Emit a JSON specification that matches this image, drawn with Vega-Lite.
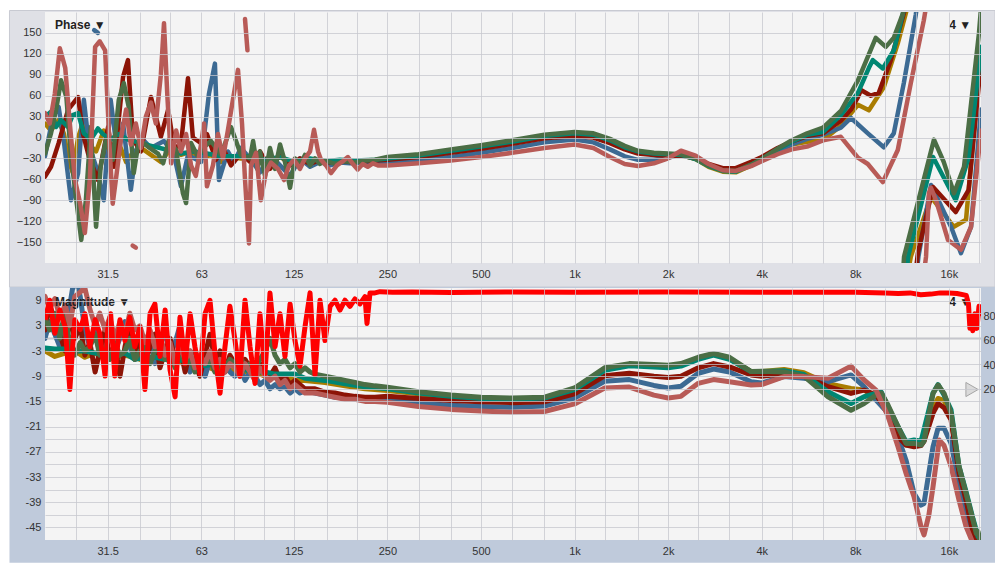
{
"$schema":"https://vega.github.io/schema/vega-lite/v6.json",
"background":"#ffffff",
"padding":{"left":8,"top":10,"right":0,"bottom":0},
"config":{"view":{"stroke":null},"axis":{"labelFont":"Liberation Sans","labelFontSize":11,"labelColor":"#333333","ticks":false,"domain":false,"gridColor":"#c6c7ce","gridOpacity":0.75,"gridWidth":1,"zindex":1,"labelOverlap":false,"labelFlush":false,"labelSeparation":0},"text":{"font":"Liberation Sans"}},
"datasets":{
"ph":[
{"s":"y","k":0,"f":19.8,"v":20},{"s":"y","k":0,"f":20.7,"v":10},{"s":"y","k":0,"f":21.9,"v":25},{"s":"y","k":0,"f":22.8,"v":5},{"s":"y","k":0,"f":23.5,"v":-30},{"s":"y","k":0,"f":24.3,"v":-50},{"s":"y","k":0,"f":25.3,"v":0},{"s":"y","k":0,"f":26.2,"v":20},{"s":"y","k":0,"f":27.4,"v":-10},{"s":"y","k":0,"f":28.9,"v":-20},{"s":"y","k":0,"f":30.6,"v":10},{"s":"y","k":0,"f":32.2,"v":-15},{"s":"y","k":0,"f":34,"v":-5},{"s":"y","k":0,"f":36.1,"v":-35},{"s":"y","k":0,"f":38.2,"v":-20},{"s":"y","k":0,"f":40.3,"v":-15},{"s":"y","k":0,"f":43.4,"v":-25},{"s":"y","k":0,"f":46.7,"v":-35},{"s":"y","k":0,"f":50.4,"v":-15},{"s":"y","k":0,"f":54.2,"v":-25},{"s":"y","k":0,"f":58.4,"v":-20},{"s":"y","k":0,"f":62.9,"v":-30},{"s":"y","k":0,"f":67.7,"v":-25},{"s":"y","k":0,"f":72.9,"v":-35},{"s":"y","k":0,"f":78.5,"v":-28},{"s":"y","k":0,"f":84.5,"v":-30},{"s":"y","k":0,"f":90.4,"v":-30},{"s":"y","k":0,"f":101,"v":-38},{"s":"y","k":0,"f":112.9,"v":-28},{"s":"y","k":0,"f":126.1,"v":-40},{"s":"y","k":0,"f":141,"v":-32},{"s":"y","k":0,"f":157.5,"v":-36},{"s":"y","k":0,"f":176,"v":-34},{"s":"y","k":0,"f":196.7,"v":-35},{"s":"y","k":0,"f":228.1,"v":-33},{"s":"y","k":0,"f":250,"v":-31},{"s":"y","k":0,"f":315,"v":-27},{"s":"y","k":0,"f":400,"v":-21},{"s":"y","k":0,"f":500,"v":-15},{"s":"y","k":0,"f":630,"v":-8},{"s":"y","k":0,"f":800,"v":0},{"s":"y","k":0,"f":1000,"v":4},{"s":"y","k":0,"f":1150,"v":2},{"s":"y","k":0,"f":1300,"v":-6},{"s":"y","k":0,"f":1450,"v":-16},{"s":"y","k":0,"f":1600,"v":-22},{"s":"y","k":0,"f":1800,"v":-24},{"s":"y","k":0,"f":2000,"v":-25},{"s":"y","k":0,"f":2200,"v":-25},{"s":"y","k":0,"f":2450,"v":-31},{"s":"y","k":0,"f":2700,"v":-42},{"s":"y","k":0,"f":3000,"v":-49},{"s":"y","k":0,"f":3300,"v":-50},{"s":"y","k":0,"f":3700,"v":-40},{"s":"y","k":0,"f":4000,"v":-32},{"s":"y","k":0,"f":4500,"v":-20},{"s":"y","k":0,"f":5000,"v":-10},{"s":"y","k":0,"f":5600,"v":-6},{"s":"y","k":0,"f":6300,"v":-4},{"s":"y","k":0,"f":7190,"v":17},{"s":"y","k":0,"f":8160,"v":47},{"s":"y","k":0,"f":8850,"v":39},{"s":"y","k":0,"f":9880,"v":72},{"s":"y","k":0,"f":10960,"v":135},{"s":"y","k":0,"f":11630,"v":178},{"s":"y","k":0,"f":11900,"v":195},
{"s":"y","k":1,"f":11800,"v":-195},{"s":"y","k":1,"f":12070,"v":-171},{"s":"y","k":1,"f":14020,"v":-85},{"s":"y","k":1,"f":16600,"v":-128},{"s":"y","k":1,"f":18170,"v":-118},{"s":"y","k":1,"f":20300,"v":125},
{"s":"b","k":0,"f":19.8,"v":-27},{"s":"b","k":0,"f":21,"v":30},{"s":"b","k":0,"f":21.9,"v":44},{"s":"b","k":0,"f":22.8,"v":-8},{"s":"b","k":0,"f":24,"v":-90},{"s":"b","k":0,"f":25.3,"v":-51},{"s":"b","k":0,"f":26.4,"v":54},{"s":"b","k":0,"f":27.4,"v":-10},{"s":"b","k":0,"f":28.9,"v":-42},{"s":"b","k":0,"f":30.6,"v":-90},{"s":"b","k":0,"f":32.2,"v":54},{"s":"b","k":0,"f":34,"v":-30},{"s":"b","k":0,"f":35.3,"v":20},{"s":"b","k":0,"f":37.4,"v":-75},{"s":"b","k":0,"f":38.8,"v":-20},{"s":"b","k":0,"f":40.3,"v":0},{"s":"b","k":0,"f":43.4,"v":-15},{"s":"b","k":0,"f":47.8,"v":-5},{"s":"b","k":0,"f":51.5,"v":-25},{"s":"b","k":0,"f":54.2,"v":-70},{"s":"b","k":0,"f":57.1,"v":-25},{"s":"b","k":0,"f":62.9,"v":-35},{"s":"b","k":0,"f":66.7,"v":63},{"s":"b","k":0,"f":69.7,"v":106},{"s":"b","k":0,"f":71.8,"v":-61},{"s":"b","k":0,"f":76.7,"v":-20},{"s":"b","k":0,"f":80.3,"v":-35},{"s":"b","k":0,"f":84.5,"v":-15},{"s":"b","k":0,"f":90.4,"v":-30},{"s":"b","k":0,"f":97.3,"v":-50},{"s":"b","k":0,"f":104.8,"v":-25},{"s":"b","k":0,"f":112.9,"v":-40},{"s":"b","k":0,"f":121.6,"v":-55},{"s":"b","k":0,"f":130.9,"v":-30},{"s":"b","k":0,"f":141,"v":-42},{"s":"b","k":0,"f":151.8,"v":-35},{"s":"b","k":0,"f":163.5,"v":-40},{"s":"b","k":0,"f":176,"v":-36},{"s":"b","k":0,"f":189.6,"v":-37},{"s":"b","k":0,"f":211.8,"v":-36},{"s":"b","k":0,"f":250,"v":-35},{"s":"b","k":0,"f":315,"v":-32},{"s":"b","k":0,"f":400,"v":-28},{"s":"b","k":0,"f":500,"v":-22},{"s":"b","k":0,"f":630,"v":-15},{"s":"b","k":0,"f":800,"v":-7},{"s":"b","k":0,"f":1000,"v":-3},{"s":"b","k":0,"f":1150,"v":-7},{"s":"b","k":0,"f":1300,"v":-17},{"s":"b","k":0,"f":1450,"v":-27},{"s":"b","k":0,"f":1600,"v":-32},{"s":"b","k":0,"f":1800,"v":-32},{"s":"b","k":0,"f":2000,"v":-29},{"s":"b","k":0,"f":2200,"v":-24},{"s":"b","k":0,"f":2450,"v":-28},{"s":"b","k":0,"f":2700,"v":-39},{"s":"b","k":0,"f":3000,"v":-47},{"s":"b","k":0,"f":3300,"v":-48},{"s":"b","k":0,"f":3700,"v":-39},{"s":"b","k":0,"f":4000,"v":-32},{"s":"b","k":0,"f":4500,"v":-20},{"s":"b","k":0,"f":5000,"v":-10},{"s":"b","k":0,"f":5600,"v":-2},{"s":"b","k":0,"f":6300,"v":4},{"s":"b","k":0,"f":7190,"v":14},{"s":"b","k":0,"f":7750,"v":28},{"s":"b","k":0,"f":8780,"v":6},{"s":"b","k":0,"f":9880,"v":-14},{"s":"b","k":0,"f":10640,"v":6},{"s":"b","k":0,"f":11460,"v":78},{"s":"b","k":0,"f":12520,"v":176},{"s":"b","k":0,"f":12700,"v":195},
{"s":"b","k":1,"f":12600,"v":-195},{"s":"b","k":1,"f":12770,"v":-171},{"s":"b","k":1,"f":14020,"v":-68},{"s":"b","k":1,"f":16260,"v":-128},{"s":"b","k":1,"f":17500,"v":-166},{"s":"b","k":1,"f":18860,"v":-128},{"s":"b","k":1,"f":20000,"v":6},{"s":"b","k":1,"f":20300,"v":40},
{"s":"b","k":2,"f":28.5,"v":154},{"s":"b","k":2,"f":29.3,"v":150},
{"s":"r","k":0,"f":19.8,"v":-56},{"s":"r","k":0,"f":20.7,"v":-42},{"s":"r","k":0,"f":21.9,"v":-8},{"s":"r","k":0,"f":23.5,"v":40},{"s":"r","k":0,"f":25.3,"v":58},{"s":"r","k":0,"f":26.2,"v":6},{"s":"r","k":0,"f":27.4,"v":-27},{"s":"r","k":0,"f":29.3,"v":-61},{"s":"r","k":0,"f":31.6,"v":15},{"s":"r","k":0,"f":33,"v":-42},{"s":"r","k":0,"f":35.3,"v":87},{"s":"r","k":0,"f":36.6,"v":111},{"s":"r","k":0,"f":38,"v":-3},{"s":"r","k":0,"f":40.3,"v":-20},{"s":"r","k":0,"f":43.4,"v":58},{"s":"r","k":0,"f":45,"v":30},{"s":"r","k":0,"f":46.7,"v":1},{"s":"r","k":0,"f":49.3,"v":40},{"s":"r","k":0,"f":51.5,"v":-15},{"s":"r","k":0,"f":54.2,"v":-10},{"s":"r","k":0,"f":57.1,"v":85},{"s":"r","k":0,"f":59.2,"v":0},{"s":"r","k":0,"f":62.9,"v":-8},{"s":"r","k":0,"f":65.7,"v":5},{"s":"r","k":0,"f":70.2,"v":-32},{"s":"r","k":0,"f":74,"v":-15},{"s":"r","k":0,"f":78.5,"v":-40},{"s":"r","k":0,"f":84.5,"v":-23},{"s":"r","k":0,"f":90.4,"v":-35},{"s":"r","k":0,"f":97.3,"v":-20},{"s":"r","k":0,"f":104.8,"v":-45},{"s":"r","k":0,"f":112.9,"v":-25},{"s":"r","k":0,"f":121.6,"v":-40},{"s":"r","k":0,"f":130.9,"v":-30},{"s":"r","k":0,"f":141,"v":-38},{"s":"r","k":0,"f":151.8,"v":-32},{"s":"r","k":0,"f":163.5,"v":-36},{"s":"r","k":0,"f":176,"v":-33},{"s":"r","k":0,"f":189.6,"v":-35},{"s":"r","k":0,"f":211.8,"v":-34},{"s":"r","k":0,"f":250,"v":-32},{"s":"r","k":0,"f":315,"v":-28},{"s":"r","k":0,"f":400,"v":-22},{"s":"r","k":0,"f":500,"v":-16},{"s":"r","k":0,"f":630,"v":-9},{"s":"r","k":0,"f":800,"v":-1},{"s":"r","k":0,"f":1000,"v":2},{"s":"r","k":0,"f":1150,"v":0},{"s":"r","k":0,"f":1300,"v":-8},{"s":"r","k":0,"f":1450,"v":-17},{"s":"r","k":0,"f":1600,"v":-23},{"s":"r","k":0,"f":1800,"v":-25},{"s":"r","k":0,"f":2000,"v":-26},{"s":"r","k":0,"f":2200,"v":-26},{"s":"r","k":0,"f":2450,"v":-30},{"s":"r","k":0,"f":2700,"v":-38},{"s":"r","k":0,"f":3000,"v":-44},{"s":"r","k":0,"f":3300,"v":-44},{"s":"r","k":0,"f":3700,"v":-35},{"s":"r","k":0,"f":4000,"v":-28},{"s":"r","k":0,"f":4500,"v":-15},{"s":"r","k":0,"f":5000,"v":-6},{"s":"r","k":0,"f":5600,"v":2},{"s":"r","k":0,"f":6300,"v":6},{"s":"r","k":0,"f":7190,"v":24},{"s":"r","k":0,"f":7750,"v":40},{"s":"r","k":0,"f":8160,"v":58},{"s":"r","k":0,"f":8340,"v":68},{"s":"r","k":0,"f":8980,"v":60},{"s":"r","k":0,"f":9520,"v":64},{"s":"r","k":0,"f":10410,"v":111},{"s":"r","k":0,"f":11460,"v":178},{"s":"r","k":0,"f":11700,"v":195},
{"s":"r","k":1,"f":12500,"v":-195},{"s":"r","k":1,"f":12730,"v":-165},{"s":"r","k":1,"f":14230,"v":-71},{"s":"r","k":1,"f":16830,"v":-107},{"s":"r","k":1,"f":18530,"v":-75},{"s":"r","k":1,"f":20000,"v":78},{"s":"r","k":1,"f":20300,"v":100},
{"s":"t","k":0,"f":19.8,"v":30},{"s":"t","k":0,"f":20.7,"v":37},{"s":"t","k":0,"f":21.5,"v":15},{"s":"t","k":0,"f":22.3,"v":25},{"s":"t","k":0,"f":23.5,"v":15},{"s":"t","k":0,"f":24.3,"v":32},{"s":"t","k":0,"f":25.3,"v":35},{"s":"t","k":0,"f":26.4,"v":6},{"s":"t","k":0,"f":27.8,"v":-3},{"s":"t","k":0,"f":29.3,"v":13},{"s":"t","k":0,"f":30.4,"v":5},{"s":"t","k":0,"f":32.2,"v":-3},{"s":"t","k":0,"f":34,"v":5},{"s":"t","k":0,"f":36.6,"v":-3},{"s":"t","k":0,"f":40.3,"v":-8},{"s":"t","k":0,"f":44.4,"v":-13},{"s":"t","k":0,"f":49.3,"v":-18},{"s":"t","k":0,"f":54.2,"v":-23},{"s":"t","k":0,"f":59.7,"v":-20},{"s":"t","k":0,"f":65.7,"v":-23},{"s":"t","k":0,"f":72.9,"v":-27},{"s":"t","k":0,"f":80.3,"v":-27},{"s":"t","k":0,"f":88.8,"v":-27},{"s":"t","k":0,"f":101,"v":-32},{"s":"t","k":0,"f":112.9,"v":-28},{"s":"t","k":0,"f":126.1,"v":-35},{"s":"t","k":0,"f":141,"v":-30},{"s":"t","k":0,"f":157.5,"v":-34},{"s":"t","k":0,"f":176,"v":-32},{"s":"t","k":0,"f":196.7,"v":-33},{"s":"t","k":0,"f":228.1,"v":-32},{"s":"t","k":0,"f":250,"v":-30},{"s":"t","k":0,"f":315,"v":-26},{"s":"t","k":0,"f":400,"v":-19},{"s":"t","k":0,"f":500,"v":-13},{"s":"t","k":0,"f":630,"v":-6},{"s":"t","k":0,"f":800,"v":2},{"s":"t","k":0,"f":1000,"v":6},{"s":"t","k":0,"f":1150,"v":4},{"s":"t","k":0,"f":1300,"v":-4},{"s":"t","k":0,"f":1450,"v":-14},{"s":"t","k":0,"f":1600,"v":-20},{"s":"t","k":0,"f":1800,"v":-23},{"s":"t","k":0,"f":2000,"v":-24},{"s":"t","k":0,"f":2200,"v":-25},{"s":"t","k":0,"f":2450,"v":-31},{"s":"t","k":0,"f":2700,"v":-41},{"s":"t","k":0,"f":3000,"v":-48},{"s":"t","k":0,"f":3300,"v":-49},{"s":"t","k":0,"f":3700,"v":-39},{"s":"t","k":0,"f":4000,"v":-31},{"s":"t","k":0,"f":4500,"v":-17},{"s":"t","k":0,"f":5000,"v":-6},{"s":"t","k":0,"f":5600,"v":4},{"s":"t","k":0,"f":6300,"v":8},{"s":"t","k":0,"f":7190,"v":32},{"s":"t","k":0,"f":8160,"v":64},{"s":"t","k":0,"f":8850,"v":100},{"s":"t","k":0,"f":9110,"v":111},{"s":"t","k":0,"f":9810,"v":99},{"s":"t","k":0,"f":10640,"v":125},{"s":"t","k":0,"f":11390,"v":178},{"s":"t","k":0,"f":11600,"v":195},
{"s":"t","k":1,"f":11700,"v":-195},{"s":"t","k":1,"f":11830,"v":-171},{"s":"t","k":1,"f":14230,"v":-28},{"s":"t","k":1,"f":16830,"v":-90},{"s":"t","k":1,"f":18530,"v":-28},{"s":"t","k":1,"f":20000,"v":101},{"s":"t","k":1,"f":20300,"v":130},
{"s":"g","k":0,"f":19.8,"v":-23},{"s":"g","k":0,"f":20.7,"v":6},{"s":"g","k":0,"f":21.5,"v":40},{"s":"g","k":0,"f":22.3,"v":82},{"s":"g","k":0,"f":23.2,"v":58},{"s":"g","k":0,"f":24,"v":-27},{"s":"g","k":0,"f":24.9,"v":-85},{"s":"g","k":0,"f":25.9,"v":-147},{"s":"g","k":0,"f":26.8,"v":-90},{"s":"g","k":0,"f":27.8,"v":15},{"s":"g","k":0,"f":28.9,"v":-128},{"s":"g","k":0,"f":29.9,"v":-42},{"s":"g","k":0,"f":31.1,"v":-3},{"s":"g","k":0,"f":32.7,"v":-32},{"s":"g","k":0,"f":34.2,"v":54},{"s":"g","k":0,"f":35.5,"v":78},{"s":"g","k":0,"f":36.8,"v":44},{"s":"g","k":0,"f":38.2,"v":-51},{"s":"g","k":0,"f":39.7,"v":-3},{"s":"g","k":0,"f":42.4,"v":-13},{"s":"g","k":0,"f":45.7,"v":-23},{"s":"g","k":0,"f":47.5,"v":-37},{"s":"g","k":0,"f":49.6,"v":-3},{"s":"g","k":0,"f":52.3,"v":-18},{"s":"g","k":0,"f":55,"v":-80},{"s":"g","k":0,"f":56.3,"v":-94},{"s":"g","k":0,"f":58.4,"v":-8},{"s":"g","k":0,"f":61.5,"v":-28},{"s":"g","k":0,"f":63.8,"v":-15},{"s":"g","k":0,"f":67.7,"v":-5},{"s":"g","k":0,"f":72.9,"v":-25},{"s":"g","k":0,"f":78.5,"v":15},{"s":"g","k":0,"f":81.5,"v":-5},{"s":"g","k":0,"f":84.5,"v":-25},{"s":"g","k":0,"f":90.4,"v":-30},{"s":"g","k":0,"f":92.5,"v":-5},{"s":"g","k":0,"f":95.5,"v":-45},{"s":"g","k":0,"f":97.3,"v":-20},{"s":"g","k":0,"f":101,"v":-55},{"s":"g","k":0,"f":104.8,"v":-15},{"s":"g","k":0,"f":108.8,"v":-45},{"s":"g","k":0,"f":112.9,"v":-10},{"s":"g","k":0,"f":117.1,"v":-35},{"s":"g","k":0,"f":121.6,"v":-72},{"s":"g","k":0,"f":126.1,"v":-30},{"s":"g","k":0,"f":130.9,"v":-40},{"s":"g","k":0,"f":135.8,"v":-25},{"s":"g","k":0,"f":141,"v":-40},{"s":"g","k":0,"f":146.3,"v":-30},{"s":"g","k":0,"f":151.8,"v":-38},{"s":"g","k":0,"f":157.5,"v":-33},{"s":"g","k":0,"f":169.6,"v":-38},{"s":"g","k":0,"f":182.7,"v":-34},{"s":"g","k":0,"f":196.7,"v":-36},{"s":"g","k":0,"f":211.8,"v":-33},{"s":"g","k":0,"f":228.1,"v":-32},{"s":"g","k":0,"f":250,"v":-28},{"s":"g","k":0,"f":315,"v":-24},{"s":"g","k":0,"f":400,"v":-17},{"s":"g","k":0,"f":500,"v":-11},{"s":"g","k":0,"f":630,"v":-4},{"s":"g","k":0,"f":800,"v":4},{"s":"g","k":0,"f":1000,"v":8},{"s":"g","k":0,"f":1150,"v":6},{"s":"g","k":0,"f":1300,"v":-2},{"s":"g","k":0,"f":1450,"v":-12},{"s":"g","k":0,"f":1600,"v":-19},{"s":"g","k":0,"f":1800,"v":-22},{"s":"g","k":0,"f":2000,"v":-23},{"s":"g","k":0,"f":2200,"v":-24},{"s":"g","k":0,"f":2450,"v":-30},{"s":"g","k":0,"f":2700,"v":-40},{"s":"g","k":0,"f":3000,"v":-47},{"s":"g","k":0,"f":3300,"v":-48},{"s":"g","k":0,"f":3700,"v":-39},{"s":"g","k":0,"f":4000,"v":-31},{"s":"g","k":0,"f":4500,"v":-16},{"s":"g","k":0,"f":5000,"v":-4},{"s":"g","k":0,"f":5600,"v":6},{"s":"g","k":0,"f":6300,"v":14},{"s":"g","k":0,"f":7190,"v":38},{"s":"g","k":0,"f":8160,"v":82},{"s":"g","k":0,"f":9310,"v":143},{"s":"g","k":0,"f":10030,"v":130},{"s":"g","k":0,"f":10640,"v":143},{"s":"g","k":0,"f":11390,"v":178},{"s":"g","k":0,"f":11600,"v":195},
{"s":"g","k":1,"f":11400,"v":-195},{"s":"g","k":1,"f":11480,"v":-171},{"s":"g","k":1,"f":14330,"v":-3},{"s":"g","k":1,"f":15400,"v":-35},{"s":"g","k":1,"f":16620,"v":-80},{"s":"g","k":1,"f":17900,"v":-42},{"s":"g","k":1,"f":20000,"v":150},{"s":"g","k":1,"f":20300,"v":185},
{"s":"p","k":0,"f":19.8,"v":35},{"s":"p","k":0,"f":20.5,"v":20},{"s":"p","k":0,"f":21.3,"v":63},{"s":"p","k":0,"f":22.1,"v":128},{"s":"p","k":0,"f":23,"v":100},{"s":"p","k":0,"f":23.8,"v":20},{"s":"p","k":0,"f":24.7,"v":-60},{"s":"p","k":0,"f":25.7,"v":-95},{"s":"p","k":0,"f":26.6,"v":-137},{"s":"p","k":0,"f":27.6,"v":-60},{"s":"p","k":0,"f":28.7,"v":130},{"s":"p","k":0,"f":29.7,"v":138},{"s":"p","k":0,"f":30.9,"v":125},{"s":"p","k":0,"f":32,"v":-20},{"s":"p","k":0,"f":32.7,"v":-95},{"s":"p","k":0,"f":33.7,"v":-50},{"s":"p","k":0,"f":34.8,"v":0},{"s":"p","k":0,"f":36.1,"v":40},{"s":"p","k":0,"f":37.4,"v":-10},{"s":"p","k":0,"f":38.8,"v":20},{"s":"p","k":0,"f":40.3,"v":-15},{"s":"p","k":0,"f":41.8,"v":30},{"s":"p","k":0,"f":43.4,"v":50},{"s":"p","k":0,"f":45,"v":20},{"s":"p","k":0,"f":46.7,"v":90},{"s":"p","k":0,"f":47.8,"v":164},{"s":"p","k":0,"f":49,"v":60},{"s":"p","k":0,"f":50.4,"v":-37},{"s":"p","k":0,"f":52.3,"v":10},{"s":"p","k":0,"f":54.2,"v":-20},{"s":"p","k":0,"f":56.3,"v":5},{"s":"p","k":0,"f":58.4,"v":-40},{"s":"p","k":0,"f":60.5,"v":-55},{"s":"p","k":0,"f":62.9,"v":-10},{"s":"p","k":0,"f":64.3,"v":20},{"s":"p","k":0,"f":65.7,"v":-70},{"s":"p","k":0,"f":68.7,"v":-40},{"s":"p","k":0,"f":71.3,"v":5},{"s":"p","k":0,"f":74,"v":-30},{"s":"p","k":0,"f":76.7,"v":10},{"s":"p","k":0,"f":79.7,"v":55},{"s":"p","k":0,"f":82.7,"v":97},{"s":"p","k":0,"f":85.2,"v":20},{"s":"p","k":0,"f":87.1,"v":-60},{"s":"p","k":0,"f":89.7,"v":-152},{"s":"p","k":0,"f":91.1,"v":-40},{"s":"p","k":0,"f":94.5,"v":-22},{"s":"p","k":0,"f":97.9,"v":-90},{"s":"p","k":0,"f":101.7,"v":-50},{"s":"p","k":0,"f":105.6,"v":-36},{"s":"p","k":0,"f":111.2,"v":-45},{"s":"p","k":0,"f":116.3,"v":-61},{"s":"p","k":0,"f":120.7,"v":-40},{"s":"p","k":0,"f":125.1,"v":-32},{"s":"p","k":0,"f":130.9,"v":-45},{"s":"p","k":0,"f":135.8,"v":-30},{"s":"p","k":0,"f":141,"v":-20},{"s":"p","k":0,"f":145.2,"v":11},{"s":"p","k":0,"f":149.6,"v":-20},{"s":"p","k":0,"f":152.9,"v":-32},{"s":"p","k":0,"f":158.7,"v":-40},{"s":"p","k":0,"f":164.7,"v":-51},{"s":"p","k":0,"f":172.1,"v":-40},{"s":"p","k":0,"f":178.6,"v":-35},{"s":"p","k":0,"f":186.6,"v":-28},{"s":"p","k":0,"f":193.7,"v":-38},{"s":"p","k":0,"f":200.7,"v":-46},{"s":"p","k":0,"f":208.3,"v":-38},{"s":"p","k":0,"f":216.1,"v":-42},{"s":"p","k":0,"f":224.6,"v":-37},{"s":"p","k":0,"f":233.2,"v":-40},{"s":"p","k":0,"f":250,"v":-40},{"s":"p","k":0,"f":315,"v":-37},{"s":"p","k":0,"f":400,"v":-33},{"s":"p","k":0,"f":500,"v":-28},{"s":"p","k":0,"f":630,"v":-22},{"s":"p","k":0,"f":800,"v":-15},{"s":"p","k":0,"f":1000,"v":-10},{"s":"p","k":0,"f":1150,"v":-15},{"s":"p","k":0,"f":1300,"v":-28},{"s":"p","k":0,"f":1450,"v":-38},{"s":"p","k":0,"f":1600,"v":-41},{"s":"p","k":0,"f":1800,"v":-37},{"s":"p","k":0,"f":2000,"v":-30},{"s":"p","k":0,"f":2200,"v":-19},{"s":"p","k":0,"f":2450,"v":-26},{"s":"p","k":0,"f":2700,"v":-38},{"s":"p","k":0,"f":3000,"v":-47},{"s":"p","k":0,"f":3300,"v":-48},{"s":"p","k":0,"f":3700,"v":-41},{"s":"p","k":0,"f":4000,"v":-34},{"s":"p","k":0,"f":4500,"v":-24},{"s":"p","k":0,"f":5000,"v":-17},{"s":"p","k":0,"f":5600,"v":-13},{"s":"p","k":0,"f":6300,"v":-4},{"s":"p","k":0,"f":7190,"v":1},{"s":"p","k":0,"f":8160,"v":-29},{"s":"p","k":0,"f":8780,"v":-38},{"s":"p","k":0,"f":9810,"v":-64},{"s":"p","k":0,"f":10960,"v":-18},{"s":"p","k":0,"f":12070,"v":78},{"s":"p","k":0,"f":13290,"v":168},{"s":"p","k":0,"f":13600,"v":195},
{"s":"p","k":1,"f":13300,"v":-195},{"s":"p","k":1,"f":13510,"v":-171},{"s":"p","k":1,"f":13800,"v":-80},{"s":"p","k":1,"f":14000,"v":-72},{"s":"p","k":1,"f":14550,"v":-90},{"s":"p","k":1,"f":15900,"v":-147},{"s":"p","k":1,"f":17510,"v":-161},{"s":"p","k":1,"f":18860,"v":-128},{"s":"p","k":1,"f":20000,"v":-18},{"s":"p","k":1,"f":20300,"v":10},
{"s":"p","k":2,"f":87.1,"v":170},{"s":"p","k":2,"f":88.7,"v":125},
{"s":"p","k":3,"f":37.9,"v":-155},{"s":"p","k":3,"f":38.8,"v":-158}
],
"mg":[
{"s":"y","f":19.8,"v":-3},{"s":"y","f":21.3,"v":-4.3},{"s":"y","f":23,"v":-3.5},{"s":"y","f":24.7,"v":-3},{"s":"y","f":26.6,"v":-4.5},{"s":"y","f":28.7,"v":-3.5},{"s":"y","f":30.9,"v":-5},{"s":"y","f":33.2,"v":-4.5},{"s":"y","f":35.8,"v":-4},{"s":"y","f":38.5,"v":-4.5},{"s":"y","f":41.5,"v":-5.5},{"s":"y","f":44.7,"v":-5.5},{"s":"y","f":48.2,"v":-5},{"s":"y","f":51.9,"v":-5.5},{"s":"y","f":55.9,"v":-6},{"s":"y","f":60.1,"v":-7},{"s":"y","f":64.8,"v":-6.5},{"s":"y","f":69.7,"v":-7.5},{"s":"y","f":75.1,"v":-7.5},{"s":"y","f":80.9,"v":-7.5},{"s":"y","f":87.1,"v":-8},{"s":"y","f":93.8,"v":-8},{"s":"y","f":101,"v":-9},{"s":"y","f":108.8,"v":-9},{"s":"y","f":117.1,"v":-9},{"s":"y","f":126.1,"v":-10},{"s":"y","f":135.8,"v":-10},{"s":"y","f":157.5,"v":-10.5},{"s":"y","f":182.7,"v":-11.3},{"s":"y","f":211.8,"v":-12},{"s":"y","f":250,"v":-12.4},{"s":"y","f":315,"v":-13.2},{"s":"y","f":400,"v":-13.9},{"s":"y","f":500,"v":-14.2},{"s":"y","f":630,"v":-14.4},{"s":"y","f":800,"v":-14.2},{"s":"y","f":1000,"v":-12},{"s":"y","f":1250,"v":-7.2},{"s":"y","f":1500,"v":-6.2},{"s":"y","f":1800,"v":-6.5},{"s":"y","f":2000,"v":-6.6},{"s":"y","f":2200,"v":-6.3},{"s":"y","f":2500,"v":-4.7},{"s":"y","f":2800,"v":-3.8},{"s":"y","f":3150,"v":-4.8},{"s":"y","f":3700,"v":-7.9},{"s":"y","f":4000,"v":-7.9},{"s":"y","f":4720,"v":-7.4},{"s":"y","f":5470,"v":-8.2},{"s":"y","f":6540,"v":-10.8},{"s":"y","f":7750,"v":-11.9},{"s":"y","f":8540,"v":-12.3},{"s":"y","f":9330,"v":-14.3},{"s":"y","f":10200,"v":-17.8},{"s":"y","f":10980,"v":-22.6},{"s":"y","f":11650,"v":-25.4},{"s":"y","f":12360,"v":-25},{"s":"y","f":13020,"v":-24.2},{"s":"y","f":13310,"v":-23.5},{"s":"y","f":14230,"v":-16.5},{"s":"y","f":14770,"v":-14.3},{"s":"y","f":15440,"v":-14.8},{"s":"y","f":16260,"v":-18.6},{"s":"y","f":17250,"v":-32},{"s":"y","f":18170,"v":-38.5},{"s":"y","f":19140,"v":-46.4},{"s":"y","f":19860,"v":-50},
{"s":"b","f":19.8,"v":0},{"s":"b","f":20.5,"v":4},{"s":"b","f":21.3,"v":1},{"s":"b","f":22.1,"v":-2},{"s":"b","f":23,"v":3},{"s":"b","f":23.8,"v":8},{"s":"b","f":24.3,"v":12},{"s":"b","f":24.7,"v":15},{"s":"b","f":25.7,"v":10},{"s":"b","f":26.6,"v":2},{"s":"b","f":27.6,"v":-2},{"s":"b","f":28.7,"v":3},{"s":"b","f":29.7,"v":-4},{"s":"b","f":30.9,"v":-1},{"s":"b","f":32,"v":2},{"s":"b","f":33.2,"v":-3},{"s":"b","f":34.5,"v":0},{"s":"b","f":35.8,"v":4},{"s":"b","f":37.1,"v":-2},{"s":"b","f":38.5,"v":-5},{"s":"b","f":40,"v":1},{"s":"b","f":41.5,"v":-3},{"s":"b","f":43.1,"v":0},{"s":"b","f":44.7,"v":-6},{"s":"b","f":46.4,"v":-2},{"s":"b","f":48.2,"v":2},{"s":"b","f":50,"v":-4},{"s":"b","f":51.9,"v":-1},{"s":"b","f":53.8,"v":3},{"s":"b","f":55.9,"v":-5},{"s":"b","f":58,"v":-8},{"s":"b","f":60.1,"v":-3},{"s":"b","f":62.4,"v":-6},{"s":"b","f":64.8,"v":-9},{"s":"b","f":67.2,"v":-5},{"s":"b","f":69.7,"v":-7},{"s":"b","f":72.4,"v":-10},{"s":"b","f":75.1,"v":-6},{"s":"b","f":77.9,"v":-8},{"s":"b","f":80.9,"v":-9},{"s":"b","f":83.9,"v":-7},{"s":"b","f":87.1,"v":-10},{"s":"b","f":90.4,"v":-8},{"s":"b","f":93.8,"v":-9},{"s":"b","f":97.3,"v":-11},{"s":"b","f":101,"v":-10},{"s":"b","f":104.8,"v":-12},{"s":"b","f":108.8,"v":-11},{"s":"b","f":112.9,"v":-12},{"s":"b","f":117.1,"v":-11.5},{"s":"b","f":121.6,"v":-13},{"s":"b","f":126.1,"v":-12},{"s":"b","f":130.9,"v":-13},{"s":"b","f":135.8,"v":-12.5},{"s":"b","f":146.3,"v":-13},{"s":"b","f":157.5,"v":-13.5},{"s":"b","f":169.6,"v":-14},{"s":"b","f":182.7,"v":-14},{"s":"b","f":196.7,"v":-14.5},{"s":"b","f":211.8,"v":-14.5},{"s":"b","f":228.1,"v":-14.8},{"s":"b","f":250,"v":-14.6},{"s":"b","f":315,"v":-15.4},{"s":"b","f":400,"v":-15.9},{"s":"b","f":500,"v":-16.2},{"s":"b","f":630,"v":-16.4},{"s":"b","f":800,"v":-16.1},{"s":"b","f":1000,"v":-14.2},{"s":"b","f":1250,"v":-10.2},{"s":"b","f":1500,"v":-9.8},{"s":"b","f":1800,"v":-11.2},{"s":"b","f":2000,"v":-11.8},{"s":"b","f":2200,"v":-11.4},{"s":"b","f":2500,"v":-8.3},{"s":"b","f":2800,"v":-7.3},{"s":"b","f":3150,"v":-8},{"s":"b","f":3700,"v":-10.3},{"s":"b","f":4000,"v":-10.6},{"s":"b","f":4720,"v":-9.1},{"s":"b","f":5470,"v":-9.5},{"s":"b","f":6540,"v":-10.3},{"s":"b","f":7750,"v":-8.7},{"s":"b","f":8540,"v":-11.5},{"s":"b","f":9330,"v":-14.7},{"s":"b","f":10200,"v":-17.8},{"s":"b","f":10980,"v":-23.4},{"s":"b","f":11650,"v":-29},{"s":"b","f":12360,"v":-36.9},{"s":"b","f":13020,"v":-39.7},{"s":"b","f":13310,"v":-39.3},{"s":"b","f":14230,"v":-25.8},{"s":"b","f":14770,"v":-21.4},{"s":"b","f":15440,"v":-21.4},{"s":"b","f":16260,"v":-25},{"s":"b","f":17250,"v":-34.5},{"s":"b","f":18170,"v":-41.7},{"s":"b","f":19140,"v":-48},{"s":"b","f":19860,"v":-51},
{"s":"r","f":19.8,"v":2},{"s":"r","f":20.5,"v":8},{"s":"r","f":21.3,"v":4},{"s":"r","f":22.1,"v":1},{"s":"r","f":23,"v":-3},{"s":"r","f":23.8,"v":5},{"s":"r","f":24.7,"v":0},{"s":"r","f":25.7,"v":3},{"s":"r","f":26.6,"v":-4},{"s":"r","f":27.6,"v":-1},{"s":"r","f":28.7,"v":-8},{"s":"r","f":29.7,"v":-3},{"s":"r","f":30.9,"v":2},{"s":"r","f":32,"v":-5},{"s":"r","f":33.2,"v":-1},{"s":"r","f":34.5,"v":-9},{"s":"r","f":35.8,"v":-2},{"s":"r","f":37.1,"v":3},{"s":"r","f":38.5,"v":-4},{"s":"r","f":40,"v":0},{"s":"r","f":41.5,"v":-6},{"s":"r","f":43.1,"v":-2},{"s":"r","f":44.7,"v":1},{"s":"r","f":46.4,"v":-7},{"s":"r","f":48.2,"v":-3},{"s":"r","f":50,"v":0},{"s":"r","f":51.9,"v":-5},{"s":"r","f":53.8,"v":-2},{"s":"r","f":55.9,"v":-8},{"s":"r","f":58,"v":-3},{"s":"r","f":60.1,"v":-6},{"s":"r","f":62.4,"v":-9},{"s":"r","f":64.8,"v":-4},{"s":"r","f":67.2,"v":1},{"s":"r","f":69.7,"v":-5},{"s":"r","f":72.4,"v":-3},{"s":"r","f":75.1,"v":-8},{"s":"r","f":77.9,"v":-4},{"s":"r","f":80.9,"v":-6},{"s":"r","f":83.9,"v":-9},{"s":"r","f":87.1,"v":-5},{"s":"r","f":90.4,"v":-7},{"s":"r","f":93.8,"v":-10},{"s":"r","f":97.3,"v":-6},{"s":"r","f":101,"v":-8},{"s":"r","f":104.8,"v":-9},{"s":"r","f":108.8,"v":-7},{"s":"r","f":112.9,"v":-10},{"s":"r","f":117.1,"v":-9},{"s":"r","f":121.6,"v":-11},{"s":"r","f":126.1,"v":-10},{"s":"r","f":130.9,"v":-11},{"s":"r","f":135.8,"v":-12},{"s":"r","f":146.3,"v":-12},{"s":"r","f":157.5,"v":-12.8},{"s":"r","f":169.6,"v":-13},{"s":"r","f":182.7,"v":-13.5},{"s":"r","f":196.7,"v":-13.8},{"s":"r","f":211.8,"v":-14},{"s":"r","f":228.1,"v":-14},{"s":"r","f":250,"v":-13.8},{"s":"r","f":315,"v":-14.3},{"s":"r","f":400,"v":-14.8},{"s":"r","f":500,"v":-15.1},{"s":"r","f":630,"v":-15.3},{"s":"r","f":800,"v":-15.1},{"s":"r","f":1000,"v":-13.2},{"s":"r","f":1250,"v":-8.9},{"s":"r","f":1500,"v":-8.3},{"s":"r","f":1800,"v":-9},{"s":"r","f":2000,"v":-9.3},{"s":"r","f":2200,"v":-9},{"s":"r","f":2500,"v":-7},{"s":"r","f":2800,"v":-6},{"s":"r","f":3150,"v":-6.8},{"s":"r","f":3700,"v":-8.7},{"s":"r","f":4000,"v":-9},{"s":"r","f":4720,"v":-8.4},{"s":"r","f":5470,"v":-8.9},{"s":"r","f":6540,"v":-11.5},{"s":"r","f":7750,"v":-13.1},{"s":"r","f":8540,"v":-12.3},{"s":"r","f":9330,"v":-13.5},{"s":"r","f":10200,"v":-17.5},{"s":"r","f":10980,"v":-23.4},{"s":"r","f":11650,"v":-25.4},{"s":"r","f":12360,"v":-25.8},{"s":"r","f":13020,"v":-25.5},{"s":"r","f":13310,"v":-24.5},{"s":"r","f":14230,"v":-17.8},{"s":"r","f":14770,"v":-15.5},{"s":"r","f":15440,"v":-16.5},{"s":"r","f":16260,"v":-19.4},{"s":"r","f":17250,"v":-32},{"s":"r","f":18170,"v":-38.5},{"s":"r","f":19140,"v":-46.4},{"s":"r","f":19860,"v":-50},
{"s":"t","f":19.8,"v":-2.3},{"s":"t","f":21.3,"v":-2.5},{"s":"t","f":23,"v":-2.5},{"s":"t","f":24.7,"v":-3},{"s":"t","f":26.6,"v":-3},{"s":"t","f":28.7,"v":-3.5},{"s":"t","f":30.9,"v":-4},{"s":"t","f":33.2,"v":-4},{"s":"t","f":35.8,"v":-3.5},{"s":"t","f":38.5,"v":-5},{"s":"t","f":41.5,"v":-4.5},{"s":"t","f":44.7,"v":-4.5},{"s":"t","f":48.2,"v":-5},{"s":"t","f":51.9,"v":-5.5},{"s":"t","f":55.9,"v":-5},{"s":"t","f":60.1,"v":-5.5},{"s":"t","f":64.8,"v":-6.5},{"s":"t","f":69.7,"v":-6},{"s":"t","f":75.1,"v":-6.5},{"s":"t","f":80.9,"v":-6},{"s":"t","f":87.1,"v":-7.5},{"s":"t","f":93.8,"v":-8},{"s":"t","f":101,"v":-8},{"s":"t","f":108.8,"v":-8.5},{"s":"t","f":117.1,"v":-8.5},{"s":"t","f":126.1,"v":-8.5},{"s":"t","f":135.8,"v":-9.5},{"s":"t","f":157.5,"v":-10},{"s":"t","f":182.7,"v":-10.8},{"s":"t","f":211.8,"v":-11.5},{"s":"t","f":250,"v":-12},{"s":"t","f":315,"v":-13},{"s":"t","f":400,"v":-13.8},{"s":"t","f":500,"v":-14.3},{"s":"t","f":630,"v":-14.5},{"s":"t","f":800,"v":-14.2},{"s":"t","f":1000,"v":-12.2},{"s":"t","f":1250,"v":-7.6},{"s":"t","f":1500,"v":-6.5},{"s":"t","f":1800,"v":-6.8},{"s":"t","f":2000,"v":-7},{"s":"t","f":2200,"v":-6.6},{"s":"t","f":2500,"v":-5},{"s":"t","f":2800,"v":-4},{"s":"t","f":3150,"v":-5},{"s":"t","f":3700,"v":-7.9},{"s":"t","f":4000,"v":-7.9},{"s":"t","f":4720,"v":-7.7},{"s":"t","f":5470,"v":-8.6},{"s":"t","f":6540,"v":-12.7},{"s":"t","f":7750,"v":-15.5},{"s":"t","f":8540,"v":-13.9},{"s":"t","f":9330,"v":-13.1},{"s":"t","f":9700,"v":-12.8},{"s":"t","f":10200,"v":-16.3},{"s":"t","f":10980,"v":-21},{"s":"t","f":11650,"v":-24.6},{"s":"t","f":12360,"v":-24.2},{"s":"t","f":13020,"v":-24.5},{"s":"t","f":14230,"v":-13},{"s":"t","f":14770,"v":-11},{"s":"t","f":15440,"v":-13.5},{"s":"t","f":16260,"v":-17},{"s":"t","f":17250,"v":-30.5},{"s":"t","f":18170,"v":-36.5},{"s":"t","f":19140,"v":-43},{"s":"t","f":19860,"v":-47.2},{"s":"t","f":20300,"v":-48},
{"s":"g","f":19.8,"v":5},{"s":"g","f":20.5,"v":2},{"s":"g","f":21.3,"v":6},{"s":"g","f":22.1,"v":0},{"s":"g","f":23,"v":7},{"s":"g","f":23.8,"v":-2},{"s":"g","f":24.7,"v":-4},{"s":"g","f":25.7,"v":-1},{"s":"g","f":26.6,"v":-3},{"s":"g","f":27.6,"v":-2},{"s":"g","f":28.7,"v":1},{"s":"g","f":29.7,"v":-4},{"s":"g","f":30.9,"v":-2},{"s":"g","f":32,"v":-5},{"s":"g","f":33.2,"v":-1},{"s":"g","f":34.5,"v":-4},{"s":"g","f":35.8,"v":-3},{"s":"g","f":37.1,"v":0},{"s":"g","f":38.5,"v":-5},{"s":"g","f":40,"v":-3},{"s":"g","f":41.5,"v":-2},{"s":"g","f":43.1,"v":-6},{"s":"g","f":44.7,"v":-3},{"s":"g","f":46.4,"v":-1},{"s":"g","f":48.2,"v":-5},{"s":"g","f":50,"v":-4},{"s":"g","f":51.9,"v":-7},{"s":"g","f":53.8,"v":-3},{"s":"g","f":55.9,"v":-6},{"s":"g","f":58,"v":-5},{"s":"g","f":60.1,"v":-8},{"s":"g","f":62.4,"v":-4},{"s":"g","f":64.8,"v":-6},{"s":"g","f":67.2,"v":-5},{"s":"g","f":69.7,"v":-8},{"s":"g","f":72.4,"v":-6},{"s":"g","f":75.1,"v":-7},{"s":"g","f":77.9,"v":-5},{"s":"g","f":80.9,"v":-6},{"s":"g","f":83.9,"v":-4},{"s":"g","f":87.1,"v":-7},{"s":"g","f":90.4,"v":-6},{"s":"g","f":93.8,"v":-7},{"s":"g","f":97.3,"v":-5},{"s":"g","f":101,"v":-3},{"s":"g","f":104.8,"v":0},{"s":"g","f":108.8,"v":-4},{"s":"g","f":112.9,"v":-6},{"s":"g","f":117.1,"v":-5},{"s":"g","f":121.6,"v":-7},{"s":"g","f":126.1,"v":-6},{"s":"g","f":130.9,"v":-8},{"s":"g","f":135.8,"v":-7},{"s":"g","f":141,"v":-8},{"s":"g","f":146.3,"v":-8.5},{"s":"g","f":157.5,"v":-9},{"s":"g","f":169.6,"v":-9.5},{"s":"g","f":182.7,"v":-10},{"s":"g","f":196.7,"v":-10.5},{"s":"g","f":211.8,"v":-11},{"s":"g","f":228.1,"v":-11.3},{"s":"g","f":250,"v":-11.6},{"s":"g","f":315,"v":-12.7},{"s":"g","f":400,"v":-13.5},{"s":"g","f":500,"v":-14},{"s":"g","f":630,"v":-14.2},{"s":"g","f":800,"v":-14},{"s":"g","f":1000,"v":-11.8},{"s":"g","f":1250,"v":-7},{"s":"g","f":1500,"v":-6},{"s":"g","f":1800,"v":-6.2},{"s":"g","f":2000,"v":-6.4},{"s":"g","f":2200,"v":-6},{"s":"g","f":2500,"v":-4.5},{"s":"g","f":2800,"v":-3.6},{"s":"g","f":3150,"v":-4.5},{"s":"g","f":3700,"v":-7.9},{"s":"g","f":4000,"v":-7.8},{"s":"g","f":4720,"v":-8},{"s":"g","f":5470,"v":-9},{"s":"g","f":6540,"v":-13.9},{"s":"g","f":7750,"v":-17.1},{"s":"g","f":8540,"v":-15.5},{"s":"g","f":9330,"v":-13.5},{"s":"g","f":9700,"v":-13},{"s":"g","f":10200,"v":-15.9},{"s":"g","f":10980,"v":-21},{"s":"g","f":11650,"v":-25},{"s":"g","f":12360,"v":-25},{"s":"g","f":13020,"v":-25.4},{"s":"g","f":13310,"v":-24.5},{"s":"g","f":14230,"v":-13.1},{"s":"g","f":14770,"v":-11.1},{"s":"g","f":15440,"v":-13.1},{"s":"g","f":16260,"v":-17.8},{"s":"g","f":17250,"v":-30.5},{"s":"g","f":18170,"v":-36.9},{"s":"g","f":19140,"v":-43.3},{"s":"g","f":19600,"v":-46.4},{"s":"g","f":19860,"v":-46},{"s":"g","f":20300,"v":-49},
{"s":"p","f":19.8,"v":10},{"s":"p","f":20.5,"v":7},{"s":"p","f":21.3,"v":9.5},{"s":"p","f":22.1,"v":5},{"s":"p","f":23,"v":8},{"s":"p","f":23.8,"v":3},{"s":"p","f":24.7,"v":10},{"s":"p","f":25.7,"v":11},{"s":"p","f":26.6,"v":12},{"s":"p","f":27.6,"v":7},{"s":"p","f":28.7,"v":3},{"s":"p","f":29.7,"v":6},{"s":"p","f":30.9,"v":2},{"s":"p","f":32,"v":5},{"s":"p","f":33.2,"v":0},{"s":"p","f":34.5,"v":4},{"s":"p","f":35.8,"v":1},{"s":"p","f":37.1,"v":6},{"s":"p","f":38.5,"v":2},{"s":"p","f":40,"v":3},{"s":"p","f":41.5,"v":-1},{"s":"p","f":43.1,"v":2},{"s":"p","f":44.7,"v":-2},{"s":"p","f":46.4,"v":1},{"s":"p","f":48.2,"v":-4},{"s":"p","f":50,"v":-1},{"s":"p","f":51.9,"v":-6},{"s":"p","f":53.8,"v":-2},{"s":"p","f":55.9,"v":-5},{"s":"p","f":58,"v":-3},{"s":"p","f":60.1,"v":-7},{"s":"p","f":62.4,"v":-4},{"s":"p","f":64.8,"v":-6},{"s":"p","f":67.2,"v":-3},{"s":"p","f":69.7,"v":-7},{"s":"p","f":72.4,"v":-5},{"s":"p","f":75.1,"v":-8},{"s":"p","f":77.9,"v":-6},{"s":"p","f":80.9,"v":-7},{"s":"p","f":83.9,"v":-9},{"s":"p","f":87.1,"v":-6},{"s":"p","f":90.4,"v":-8},{"s":"p","f":93.8,"v":-10},{"s":"p","f":97.3,"v":-7},{"s":"p","f":101,"v":-9},{"s":"p","f":104.8,"v":-10},{"s":"p","f":108.8,"v":-9},{"s":"p","f":112.9,"v":-11},{"s":"p","f":117.1,"v":-10},{"s":"p","f":121.6,"v":-12},{"s":"p","f":126.1,"v":-11},{"s":"p","f":130.9,"v":-12},{"s":"p","f":135.8,"v":-13},{"s":"p","f":146.3,"v":-13},{"s":"p","f":157.5,"v":-13.5},{"s":"p","f":169.6,"v":-14},{"s":"p","f":182.7,"v":-14.5},{"s":"p","f":196.7,"v":-14.5},{"s":"p","f":211.8,"v":-15},{"s":"p","f":228.1,"v":-15},{"s":"p","f":250,"v":-15.2},{"s":"p","f":315,"v":-16.2},{"s":"p","f":400,"v":-16.9},{"s":"p","f":500,"v":-17.3},{"s":"p","f":630,"v":-17.6},{"s":"p","f":800,"v":-17.4},{"s":"p","f":1000,"v":-15.6},{"s":"p","f":1250,"v":-11.8},{"s":"p","f":1500,"v":-11.6},{"s":"p","f":1800,"v":-13.5},{"s":"p","f":2000,"v":-14.2},{"s":"p","f":2200,"v":-13.8},{"s":"p","f":2500,"v":-10.7},{"s":"p","f":2800,"v":-9.8},{"s":"p","f":3150,"v":-10.3},{"s":"p","f":3700,"v":-11.1},{"s":"p","f":4000,"v":-11},{"s":"p","f":4720,"v":-9.1},{"s":"p","f":5470,"v":-9.1},{"s":"p","f":6540,"v":-9.5},{"s":"p","f":7750,"v":-6.6},{"s":"p","f":8540,"v":-9.9},{"s":"p","f":9330,"v":-12.3},{"s":"p","f":10200,"v":-18.6},{"s":"p","f":10980,"v":-25.8},{"s":"p","f":11650,"v":-32.1},{"s":"p","f":12360,"v":-37.7},{"s":"p","f":13020,"v":-44.8},{"s":"p","f":13310,"v":-46.8},{"s":"p","f":13800,"v":-42},{"s":"p","f":14230,"v":-35.3},{"s":"p","f":14900,"v":-24.2},{"s":"p","f":15440,"v":-25.5},{"s":"p","f":16260,"v":-30.5},{"s":"p","f":17250,"v":-38.5},{"s":"p","f":18170,"v":-44.8},{"s":"p","f":19140,"v":-48.8},{"s":"p","f":19860,"v":-52}
],
"co":[
{"f":19.8,"c":77},{"f":20.5,"c":93},{"f":21.3,"c":66},{"f":22.1,"c":85},{"f":23,"c":71},{"f":23.8,"c":20},{"f":24.3,"c":55},{"f":24.7,"c":77},{"f":25.7,"c":69},{"f":26.6,"c":82},{"f":27.6,"c":55},{"f":28.7,"c":77},{"f":29.7,"c":66},{"f":30.9,"c":31},{"f":31.5,"c":69},{"f":32.2,"c":82},{"f":33.2,"c":31},{"f":34.5,"c":77},{"f":35.8,"c":60},{"f":37.1,"c":79},{"f":38.5,"c":55},{"f":40,"c":71},{"f":41.5,"c":20},{"f":43.1,"c":82},{"f":44.7,"c":90},{"f":46.4,"c":47},{"f":48.2,"c":85},{"f":50,"c":36},{"f":51.9,"c":14},{"f":53.8,"c":79},{"f":55.9,"c":41},{"f":58,"c":82},{"f":60.1,"c":55},{"f":62.4,"c":33},{"f":64.8,"c":82},{"f":67.2,"c":93},{"f":69.7,"c":50},{"f":72.4,"c":17},{"f":75.1,"c":55},{"f":77.9,"c":88},{"f":80.9,"c":60},{"f":83.9,"c":31},{"f":87.1,"c":93},{"f":90.4,"c":55},{"f":93.8,"c":25},{"f":97.3,"c":82},{"f":101,"c":33},{"f":104.8,"c":99},{"f":108.8,"c":55},{"f":112.9,"c":82},{"f":117.1,"c":47},{"f":121.6,"c":90},{"f":126.1,"c":60},{"f":130.9,"c":39},{"f":135.8,"c":71},{"f":141,"c":99},{"f":146.3,"c":32},{"f":151.8,"c":93},{"f":157.5,"c":60},{"f":163.5,"c":88},{"f":169.6,"c":93},{"f":176,"c":85},{"f":182.7,"c":93},{"f":189.6,"c":88},{"f":196.7,"c":94},{"f":204.1,"c":90},{"f":211.8,"c":96},{"f":215,"c":74},{"f":219.8,"c":99},{"f":228.1,"c":99},{"f":236.7,"c":100},{"f":260,"c":99.5},{"f":300,"c":99.8},{"f":400,"c":99.4},{"f":600,"c":99.8},{"f":1000,"c":99.6},{"f":2000,"c":99.8},{"f":4000,"c":99.6},{"f":8000,"c":99.5},{"f":10000,"c":99},{"f":11000,"c":98.5},{"f":12000,"c":99},{"f":13000,"c":97.5},{"f":14000,"c":98},{"f":15000,"c":99},{"f":16000,"c":99},{"f":17000,"c":98.5},{"f":18200,"c":97},{"f":18500,"c":90},{"f":18700,"c":70},{"f":18900,"c":80},{"f":19100,"c":68},{"f":19400,"c":82},{"f":19700,"c":70},{"f":20000,"c":88},{"f":20300,"c":80}
]
},
"spacing":25,
"bounds":"flush",
"vconcat":[
{"width":936,"height":251,
"layer":[
{"data":{"values":[{}]},"mark":{"type":"rect","fill":"#dfe0e6","stroke":"#c8cad2","strokeWidth":1,"clip":false},
"encoding":{"x":{"datum":15.22,"type":"quantitative","scale":{"type":"log","domain":[19.8,20300],"nice":false},"axis":{"values":[25,31.5,40,50,63,80,100,125,160,200,250,315,400,500,630,800,1000,1250,1600,2000,2500,3150,4000,5000,6300,8000,10000,12500,16000,20000],"labelExpr":"datum.value==31.5?'31.5':datum.value==63?'63':datum.value==125?'125':datum.value==250?'250':datum.value==500?'500':datum.value==1000?'1k':datum.value==2000?'2k':datum.value==4000?'4k':datum.value==8000?'8k':datum.value==16000?'16k':''","grid":true,"labelPadding":5,"labelOverlap":false,"title":null,"zindex":1}},"x2":{"datum":22520},"y":{"datum":182.15,"type":"quantitative","scale":{"domain":[-180,180],"nice":false,"zero":false},"axis":{"values":[-150,-120,-90,-60,-30,0,30,60,90,120,150],"grid":true,"labelPadding":4,"labelOverlap":false,"labelBound":false,"title":null,"zindex":1}},"y2":{"datum":-214.4}}},
{"data":{"values":[{}]},"mark":{"type":"rect","fill":"#f4f4f4"},
"encoding":{"x":{"datum":19.8,"type":"quantitative","axis":{"values":[25,31.5,40,50,63,80,100,125,160,200,250,315,400,500,630,800,1000,1250,1600,2000,2500,3150,4000,5000,6300,8000,10000,12500,16000,20000],"labelExpr":"datum.value==31.5?'31.5':datum.value==63?'63':datum.value==125?'125':datum.value==250?'250':datum.value==500?'500':datum.value==1000?'1k':datum.value==2000?'2k':datum.value==4000?'4k':datum.value==8000?'8k':datum.value==16000?'16k':''","grid":true,"labelPadding":5,"labelOverlap":false,"title":null,"zindex":1}},"x2":{"datum":20300},"y":{"datum":-180,"type":"quantitative","axis":{"values":[-150,-120,-90,-60,-30,0,30,60,90,120,150],"grid":true,"labelPadding":4,"labelOverlap":false,"labelBound":false,"title":null,"zindex":1}},"y2":{"datum":180}}},
{"data":{"name":"ph"},"mark":{"type":"line","strokeWidth":4.5,"clip":true,"strokeCap":"round","strokeJoin":"round"},
"encoding":{
"x":{"field":"f","type":"quantitative","axis":{"values":[25,31.5,40,50,63,80,100,125,160,200,250,315,400,500,630,800,1000,1250,1600,2000,2500,3150,4000,5000,6300,8000,10000,12500,16000,20000],"labelExpr":"datum.value==31.5?'31.5':datum.value==63?'63':datum.value==125?'125':datum.value==250?'250':datum.value==500?'500':datum.value==1000?'1k':datum.value==2000?'2k':datum.value==4000?'4k':datum.value==8000?'8k':datum.value==16000?'16k':''","grid":true,"labelPadding":5,"labelOverlap":false,"title":null,"zindex":1}},
"y":{"field":"v","type":"quantitative","axis":{"values":[-150,-120,-90,-60,-30,0,30,60,90,120,150],"grid":true,"labelPadding":4,"labelOverlap":false,"labelBound":false,"title":null,"zindex":1}},
"color":{"field":"s","type":"nominal","scale":{"domain":["y","b","r","t","g","p"],"range":["#a97c00","#3c6a93","#8c1406","#008672","#4b6e45","#b85b57"]},"legend":null},
"detail":{"field":"k"}}},
{"data":{"values":[{}]},"mark":{"type":"text","align":"left","baseline":"alphabetic","fontWeight":"bold","fontSize":12,"color":"#222222"},
"encoding":{"x":{"datum":21.32,"type":"quantitative","axis":{"values":[25,31.5,40,50,63,80,100,125,160,200,250,315,400,500,630,800,1000,1250,1600,2000,2500,3150,4000,5000,6300,8000,10000,12500,16000,20000],"labelExpr":"datum.value==31.5?'31.5':datum.value==63?'63':datum.value==125?'125':datum.value==250?'250':datum.value==500?'500':datum.value==1000?'1k':datum.value==2000?'2k':datum.value==4000?'4k':datum.value==8000?'8k':datum.value==16000?'16k':''","grid":true,"labelPadding":5,"labelOverlap":false,"title":null,"zindex":1}},"y":{"datum":155.2,"type":"quantitative","axis":{"values":[-150,-120,-90,-60,-30,0,30,60,90,120,150],"grid":true,"labelPadding":4,"labelOverlap":false,"labelBound":false,"title":null,"zindex":1}},"text":{"value":"Phase ▼"}}},
{"data":{"values":[{}]},"mark":{"type":"text","align":"right","baseline":"alphabetic","fontWeight":"bold","fontSize":12,"color":"#222222"},
"encoding":{"x":{"datum":18856,"type":"quantitative","axis":{"values":[25,31.5,40,50,63,80,100,125,160,200,250,315,400,500,630,800,1000,1250,1600,2000,2500,3150,4000,5000,6300,8000,10000,12500,16000,20000],"labelExpr":"datum.value==31.5?'31.5':datum.value==63?'63':datum.value==125?'125':datum.value==250?'250':datum.value==500?'500':datum.value==1000?'1k':datum.value==2000?'2k':datum.value==4000?'4k':datum.value==8000?'8k':datum.value==16000?'16k':''","grid":true,"labelPadding":5,"labelOverlap":false,"title":null,"zindex":1}},"y":{"datum":155.2,"type":"quantitative","axis":{"values":[-150,-120,-90,-60,-30,0,30,60,90,120,150],"grid":true,"labelPadding":4,"labelOverlap":false,"labelBound":false,"title":null,"zindex":1}},"text":{"value":"4 ▼"}}}
]},
{"width":936,"height":252,
"layer":[
{"layer":[
{"data":{"values":[{}]},"mark":{"type":"rect","fill":"#bfcadb","clip":false},
"encoding":{"x":{"datum":15.22,"type":"quantitative","scale":{"type":"log","domain":[19.8,20300],"nice":false},"axis":{"values":[25,31.5,40,50,63,80,100,125,160,200,250,315,400,500,630,800,1000,1250,1600,2000,2500,3150,4000,5000,6300,8000,10000,12500,16000,20000],"labelExpr":"datum.value==31.5?'31.5':datum.value==63?'63':datum.value==125?'125':datum.value==250?'250':datum.value==500?'500':datum.value==1000?'1k':datum.value==2000?'2k':datum.value==4000?'4k':datum.value==8000?'8k':datum.value==16000?'16k':''","grid":true,"labelPadding":5,"labelOverlap":false,"title":null,"zindex":1}},"x2":{"datum":22650},"y":{"datum":12.238,"type":"quantitative","scale":{"domain":[-48,12],"nice":false,"zero":false},"axis":{"values":[-45,-42,-39,-36,-33,-30,-27,-24,-21,-18,-15,-12,-9,-6,-3,0,3,6,9],"labelExpr":"(datum.value-3)%6==0?''+datum.value:''","grid":true,"labelPadding":4,"labelOverlap":false,"labelBound":false,"title":null,"zindex":1}},"y2":{"datum":-53.43}}},
{"data":{"values":[{}]},"mark":{"type":"rect","fill":"#f4f4f4"},
"encoding":{"x":{"datum":19.8,"type":"quantitative","axis":{"values":[25,31.5,40,50,63,80,100,125,160,200,250,315,400,500,630,800,1000,1250,1600,2000,2500,3150,4000,5000,6300,8000,10000,12500,16000,20000],"labelExpr":"datum.value==31.5?'31.5':datum.value==63?'63':datum.value==125?'125':datum.value==250?'250':datum.value==500?'500':datum.value==1000?'1k':datum.value==2000?'2k':datum.value==4000?'4k':datum.value==8000?'8k':datum.value==16000?'16k':''","grid":true,"labelPadding":5,"labelOverlap":false,"title":null,"zindex":1}},"x2":{"datum":20300},"y":{"datum":-48,"type":"quantitative","axis":{"values":[-45,-42,-39,-36,-33,-30,-27,-24,-21,-18,-15,-12,-9,-6,-3,0,3,6,9],"labelExpr":"(datum.value-3)%6==0?''+datum.value:''","grid":true,"labelPadding":4,"labelOverlap":false,"labelBound":false,"title":null,"zindex":1}},"y2":{"datum":12}}},
{"data":{"values":[{}]},"mark":{"type":"rule","stroke":"#c2c3c8","strokeWidth":2},
"encoding":{"y":{"datum":0,"type":"quantitative","axis":{"values":[-45,-42,-39,-36,-33,-30,-27,-24,-21,-18,-15,-12,-9,-6,-3,0,3,6,9],"labelExpr":"(datum.value-3)%6==0?''+datum.value:''","grid":true,"labelPadding":4,"labelOverlap":false,"labelBound":false,"title":null,"zindex":1}}}},
{"data":{"name":"mg"},"mark":{"type":"line","strokeWidth":5,"clip":true,"strokeCap":"round","strokeJoin":"round"},
"encoding":{
"x":{"field":"f","type":"quantitative","axis":{"values":[25,31.5,40,50,63,80,100,125,160,200,250,315,400,500,630,800,1000,1250,1600,2000,2500,3150,4000,5000,6300,8000,10000,12500,16000,20000],"labelExpr":"datum.value==31.5?'31.5':datum.value==63?'63':datum.value==125?'125':datum.value==250?'250':datum.value==500?'500':datum.value==1000?'1k':datum.value==2000?'2k':datum.value==4000?'4k':datum.value==8000?'8k':datum.value==16000?'16k':''","grid":true,"labelPadding":5,"labelOverlap":false,"title":null,"zindex":1}},
"y":{"field":"v","type":"quantitative","axis":{"values":[-45,-42,-39,-36,-33,-30,-27,-24,-21,-18,-15,-12,-9,-6,-3,0,3,6,9],"labelExpr":"(datum.value-3)%6==0?''+datum.value:''","grid":true,"labelPadding":4,"labelOverlap":false,"labelBound":false,"title":null,"zindex":1}},
"color":{"field":"s","type":"nominal","scale":{"domain":["y","b","r","t","g","p"],"range":["#a97c00","#3c6a93","#8c1406","#008672","#4b6e45","#b85b57"]},"legend":null}}},
{"data":{"values":[{}]},"mark":{"type":"text","align":"left","baseline":"alphabetic","fontWeight":"bold","fontSize":12,"color":"#222222"},
"encoding":{"x":{"datum":21.32,"type":"quantitative","axis":{"values":[25,31.5,40,50,63,80,100,125,160,200,250,315,400,500,630,800,1000,1250,1600,2000,2500,3150,4000,5000,6300,8000,10000,12500,16000,20000],"labelExpr":"datum.value==31.5?'31.5':datum.value==63?'63':datum.value==125?'125':datum.value==250?'250':datum.value==500?'500':datum.value==1000?'1k':datum.value==2000?'2k':datum.value==4000?'4k':datum.value==8000?'8k':datum.value==16000?'16k':''","grid":true,"labelPadding":5,"labelOverlap":false,"title":null,"zindex":1}},"y":{"datum":7.71,"type":"quantitative","axis":{"values":[-45,-42,-39,-36,-33,-30,-27,-24,-21,-18,-15,-12,-9,-6,-3,0,3,6,9],"labelExpr":"(datum.value-3)%6==0?''+datum.value:''","grid":true,"labelPadding":4,"labelOverlap":false,"labelBound":false,"title":null,"zindex":1}},"text":{"value":"Magnitude ▼"}}},
{"data":{"values":[{}]},"mark":{"type":"text","align":"right","baseline":"alphabetic","fontWeight":"bold","fontSize":12,"color":"#222222"},
"encoding":{"x":{"datum":18856,"type":"quantitative","axis":{"values":[25,31.5,40,50,63,80,100,125,160,200,250,315,400,500,630,800,1000,1250,1600,2000,2500,3150,4000,5000,6300,8000,10000,12500,16000,20000],"labelExpr":"datum.value==31.5?'31.5':datum.value==63?'63':datum.value==125?'125':datum.value==250?'250':datum.value==500?'500':datum.value==1000?'1k':datum.value==2000?'2k':datum.value==4000?'4k':datum.value==8000?'8k':datum.value==16000?'16k':''","grid":true,"labelPadding":5,"labelOverlap":false,"title":null,"zindex":1}},"y":{"datum":7.71,"type":"quantitative","axis":{"values":[-45,-42,-39,-36,-33,-30,-27,-24,-21,-18,-15,-12,-9,-6,-3,0,3,6,9],"labelExpr":"(datum.value-3)%6==0?''+datum.value:''","grid":true,"labelPadding":4,"labelOverlap":false,"labelBound":false,"title":null,"zindex":1}},"text":{"value":"4 ▼"}}},
{"data":{"values":[{}]},"mark":{"type":"point","shape":"triangle-right","size":200,"filled":true,"fill":"#dadada","stroke":"#a5a5a5","strokeWidth":1,"opacity":1,"clip":false},
"encoding":{"x":{"datum":18995,"type":"quantitative","axis":{"values":[25,31.5,40,50,63,80,100,125,160,200,250,315,400,500,630,800,1000,1250,1600,2000,2500,3150,4000,5000,6300,8000,10000,12500,16000,20000],"labelExpr":"datum.value==31.5?'31.5':datum.value==63?'63':datum.value==125?'125':datum.value==250?'250':datum.value==500?'500':datum.value==1000?'1k':datum.value==2000?'2k':datum.value==4000?'4k':datum.value==8000?'8k':datum.value==16000?'16k':''","grid":true,"labelPadding":5,"labelOverlap":false,"title":null,"zindex":1}},"y":{"datum":-12.17,"type":"quantitative","axis":{"values":[-45,-42,-39,-36,-33,-30,-27,-24,-21,-18,-15,-12,-9,-6,-3,0,3,6,9],"labelExpr":"(datum.value-3)%6==0?''+datum.value:''","grid":true,"labelPadding":4,"labelOverlap":false,"labelBound":false,"title":null,"zindex":1}}}}
]},
{"data":{"name":"co"},"mark":{"type":"line","stroke":"#ff0000","strokeWidth":5,"clip":true,"strokeJoin":"round"},
"encoding":{
"x":{"field":"f","type":"quantitative","axis":{"values":[25,31.5,40,50,63,80,100,125,160,200,250,315,400,500,630,800,1000,1250,1600,2000,2500,3150,4000,5000,6300,8000,10000,12500,16000,20000],"labelExpr":"datum.value==31.5?'31.5':datum.value==63?'63':datum.value==125?'125':datum.value==250?'250':datum.value==500?'500':datum.value==1000?'1k':datum.value==2000?'2k':datum.value==4000?'4k':datum.value==8000?'8k':datum.value==16000?'16k':''","grid":true,"labelPadding":5,"labelOverlap":false,"title":null,"zindex":1}},
"y":{"field":"c","type":"quantitative","scale":{"domain":[-103,103],"nice":false,"zero":false},"axis":{"orient":"right","values":[20,40,60,80],"grid":false,"labelPadding":2,"labelOverlap":false,"title":null,"zindex":1}}}}
],
"resolve":{"scale":{"y":"independent"},"axis":{"y":"independent"}}}
]
}
